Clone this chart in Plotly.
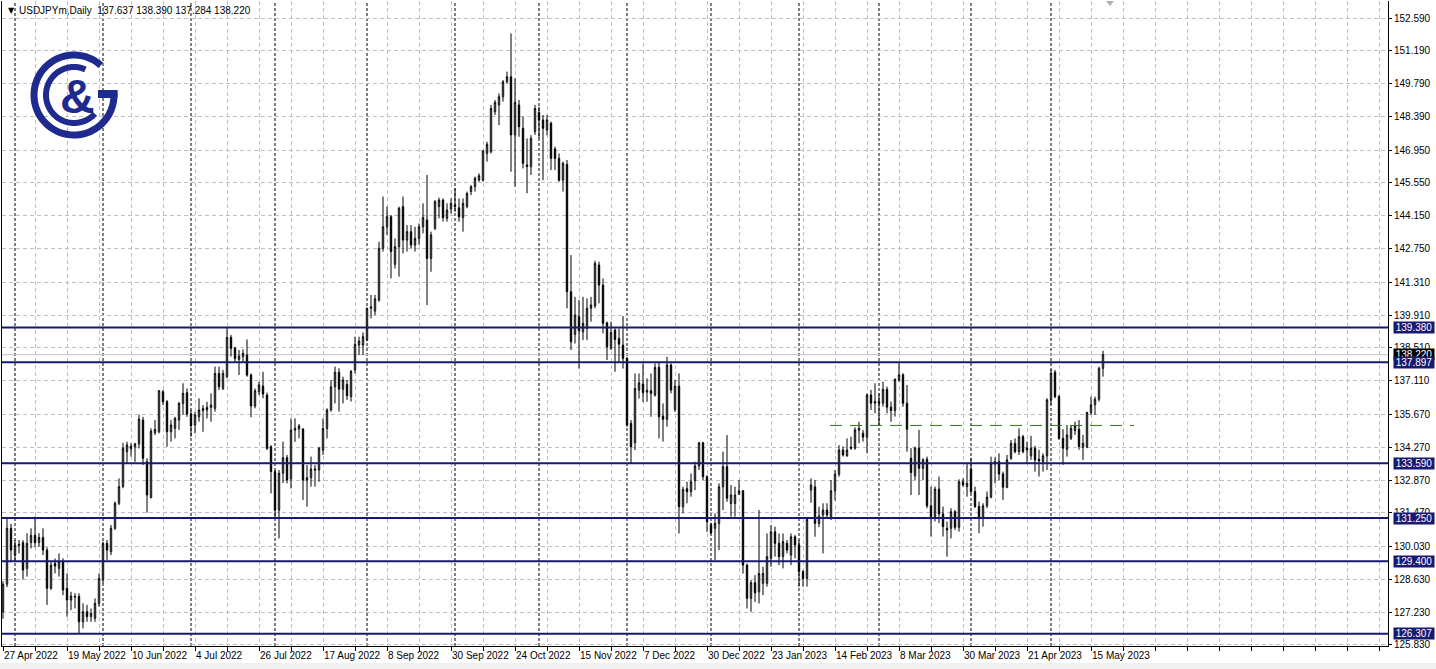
import numpy as np
import pandas as pd
import plotly.graph_objects as go

# ---------------- data ----------------
symbol_header = "USDJPYm,Daily\u00a0\u00a0137.637 138.390 137.284 138.220"

# trading days shown (weekdays, Christmas Monday has no bar)
dates = [d for d in pd.bdate_range("2022-04-27", "2023-05-18") if d != pd.Timestamp("2022-12-26")]

opens = [
    127.25, 128.42, 130.81, 129.67, 130.08, 130.20, 129.10, 130.20, 130.51, 130.20,
    130.42, 129.88, 128.25, 129.31, 129.10, 129.39, 128.25, 127.75, 127.90, 127.90,
    126.82, 127.25, 127.04, 126.97, 127.61, 128.63, 130.17, 129.81, 130.81, 131.88,
    132.59, 134.08, 134.20, 134.29, 134.41, 135.43, 133.65, 132.12, 134.89, 134.93,
    136.64, 136.21, 134.93, 135.08, 135.43, 136.14, 136.60, 135.69, 135.22, 135.57,
    135.83, 135.86, 135.97, 135.93, 137.42, 136.78, 137.28, 138.96, 138.49, 138.02,
    138.13, 138.20, 137.35, 136.03, 136.64, 136.88, 136.50, 134.29, 133.23, 131.59,
    133.16, 133.82, 132.92, 135.00, 135.05, 135.05, 132.87, 132.97, 133.34, 133.30,
    134.15, 135.07, 135.86, 136.85, 137.47, 136.75, 136.95, 136.43, 137.57, 138.63,
    138.63, 138.85, 140.20, 140.08, 140.55, 142.76, 143.68, 144.11, 142.08, 142.83,
    144.54, 143.11, 143.47, 142.90, 143.18, 143.68, 143.97, 142.33, 143.61, 144.54,
    144.82, 144.04, 144.44, 144.61, 144.49, 144.07, 144.54, 145.18, 145.39, 145.67,
    145.67, 146.81, 146.88, 148.59, 148.88, 149.23, 149.87, 150.08, 147.60, 148.88,
    147.88, 146.32, 146.24, 147.74, 148.56, 148.24, 147.81, 148.10, 147.00, 146.60,
    145.67, 146.34, 140.91, 139.09, 139.84, 139.20, 139.34, 140.20, 140.30, 142.05,
    141.19, 139.58, 138.49, 139.27, 138.91, 138.63, 138.06, 135.29, 134.46, 136.71,
    136.97, 136.62, 136.68, 136.50, 137.68, 135.60, 135.46, 137.78, 135.88, 136.88,
    131.73, 132.50, 132.37, 132.84, 133.47, 134.46, 133.01, 130.95, 130.81, 131.02,
    132.58, 133.44, 131.87, 131.87, 132.27, 132.41, 129.24, 127.82, 128.49, 128.10,
    128.46, 128.46, 129.53, 130.66, 130.17, 129.60, 130.17, 129.67, 130.45, 130.10,
    128.96, 128.67, 132.44, 132.58, 131.02, 131.38, 131.59, 131.23, 132.41, 133.12,
    134.15, 133.90, 134.27, 134.23, 135.00, 134.87, 134.70, 136.50, 136.15, 136.22,
    136.15, 136.74, 135.98, 135.84, 137.14, 137.36, 136.15, 133.80, 133.05, 134.23,
    133.37, 133.76, 131.77, 131.31, 132.48, 131.42, 130.81, 130.81, 131.52, 130.85,
    132.80, 132.59, 133.33, 132.38, 131.74, 131.24, 131.77, 132.14, 133.56, 133.66,
    133.13, 132.56, 133.80, 134.44, 134.08, 134.72, 134.23, 133.90, 134.23, 133.76,
    133.66, 133.90, 136.29, 137.47, 136.43, 134.65, 134.18, 134.65, 134.98, 135.04,
    134.27, 134.27, 135.75, 136.08, 136.32, 137.637,
]
highs = [
    128.55, 131.24, 131.00, 130.31, 130.31, 130.31, 130.60, 130.81, 131.31, 130.60,
    130.81, 130.00, 129.38, 129.52, 129.74, 129.53, 128.89, 128.10, 128.04, 128.04,
    127.61, 127.54, 127.39, 127.82, 128.89, 130.24, 130.31, 130.95, 131.95, 132.94,
    134.46, 134.51, 134.44, 134.46, 135.65, 135.57, 133.80, 135.08, 135.43, 136.71,
    136.71, 136.29, 135.43, 135.57, 136.21, 137.00, 136.78, 135.86, 135.79, 136.36,
    136.07, 136.21, 136.57, 137.71, 137.71, 137.57, 139.38, 139.06, 138.56, 138.42,
    138.45, 138.87, 137.42, 136.78, 137.07, 137.49, 136.60, 134.36, 133.30, 133.30,
    134.51, 133.94, 135.50, 135.50, 135.26, 135.08, 133.51, 133.87, 133.51, 134.29,
    135.50, 135.93, 137.14, 137.71, 137.64, 137.28, 137.14, 137.57, 138.99, 138.99,
    139.17, 140.23, 140.77, 140.77, 143.04, 144.97, 144.54, 144.18, 143.18, 144.54,
    144.97, 143.75, 143.75, 143.68, 143.82, 144.68, 145.89, 143.47, 144.82, 144.92,
    144.89, 144.68, 144.89, 145.32, 144.89, 144.89, 145.18, 145.46, 145.82, 145.96,
    146.96, 147.31, 148.88, 149.09, 149.37, 149.94, 150.30, 151.93, 150.02, 149.09,
    148.38, 147.45, 147.59, 148.88, 148.80, 148.45, 148.45, 148.17, 147.10, 146.81,
    146.46, 146.53, 142.47, 140.69, 140.55, 140.69, 140.62, 140.69, 142.23, 142.19,
    141.47, 139.63, 139.63, 139.34, 139.34, 139.87, 138.13, 135.43, 137.42, 137.42,
    137.85, 137.21, 137.42, 137.85, 137.88, 136.14, 138.13, 137.85, 137.14, 137.42,
    132.59, 132.80, 133.15, 133.65, 134.50, 134.50, 133.08, 131.05, 131.45, 132.73,
    134.08, 134.79, 132.66, 132.59, 132.87, 132.44, 129.31, 128.60, 128.81, 131.59,
    129.17, 130.59, 130.95, 130.88, 130.59, 130.59, 130.31, 130.59, 130.52, 130.31,
    129.03, 131.23, 132.94, 132.87, 131.73, 131.88, 131.88, 132.87, 133.30, 134.36,
    134.30, 134.65, 134.72, 135.12, 135.36, 135.01, 136.57, 136.72, 137.00, 136.57,
    137.07, 136.86, 136.22, 137.21, 137.88, 137.43, 136.93, 134.23, 134.30, 135.01,
    133.80, 133.87, 132.59, 132.59, 133.02, 131.74, 131.10, 131.67, 131.59, 132.90,
    132.94, 133.59, 133.80, 132.59, 131.95, 131.88, 132.38, 133.87, 133.84, 134.01,
    133.23, 133.94, 134.58, 134.65, 135.08, 134.80, 134.51, 134.76, 134.33, 134.16,
    134.01, 136.36, 137.60, 137.57, 136.50, 135.04, 135.22, 135.22, 135.36, 135.43,
    134.80, 135.79, 136.43, 136.43, 137.71, 138.390,
]
lows = [
    126.95, 128.30, 129.39, 129.39, 129.74, 128.63, 128.75, 129.95, 130.00, 130.03,
    129.67, 127.54, 128.18, 128.89, 128.75, 127.96, 127.04, 127.32, 127.39, 126.33,
    126.54, 126.82, 126.82, 126.82, 127.47, 128.46, 129.46, 129.67, 130.74, 131.80,
    132.52, 133.58, 133.87, 133.65, 134.22, 133.51, 131.48, 132.09, 134.79, 134.86,
    136.07, 134.29, 134.51, 134.65, 135.01, 135.65, 135.57, 134.72, 134.86, 135.36,
    134.93, 135.50, 135.36, 135.79, 136.71, 136.71, 137.21, 138.14, 137.92, 137.35,
    137.92, 137.28, 135.55, 135.93, 136.50, 136.36, 134.15, 132.30, 131.23, 130.38,
    132.74, 132.73, 132.51, 134.50, 134.65, 132.02, 131.73, 132.59, 132.59, 132.80,
    133.94, 134.65, 135.79, 136.14, 135.79, 136.14, 136.29, 136.22, 137.42, 138.21,
    138.21, 138.80, 139.77, 139.91, 140.48, 142.62, 143.33, 141.48, 141.90, 141.55,
    142.54, 142.62, 142.76, 142.62, 142.90, 143.40, 140.34, 141.76, 143.54, 144.04,
    143.90, 143.90, 144.25, 144.32, 143.90, 143.47, 144.47, 145.03, 145.18, 145.60,
    145.60, 146.46, 146.81, 148.45, 148.02, 149.02, 149.80, 146.03, 145.39, 147.52,
    146.17, 145.11, 145.89, 147.60, 147.45, 145.67, 147.59, 146.10, 146.10, 145.60,
    145.18, 140.20, 138.42, 138.70, 137.63, 138.84, 138.84, 139.63, 140.20, 140.41,
    139.13, 137.99, 138.42, 137.49, 137.88, 137.63, 135.15, 133.58, 134.15, 136.35,
    136.21, 136.21, 135.57, 136.43, 134.65, 134.51, 135.15, 136.57, 135.78, 130.59,
    131.45, 131.88, 132.16, 132.44, 133.30, 132.87, 130.66, 130.56, 129.45, 129.88,
    131.59, 131.94, 131.31, 131.31, 132.23, 128.88, 127.39, 127.25, 127.67, 127.60,
    127.96, 128.32, 129.17, 129.60, 129.24, 129.10, 129.74, 129.24, 129.53, 128.32,
    128.32, 128.32, 131.90, 130.45, 130.86, 129.74, 131.23, 131.16, 132.00, 133.01,
    133.87, 133.87, 134.16, 134.16, 134.44, 134.51, 134.01, 135.86, 135.72, 135.22,
    136.00, 135.72, 135.36, 135.58, 137.07, 136.00, 134.08, 132.23, 132.87, 132.23,
    132.87, 131.67, 130.46, 131.10, 131.03, 130.46, 129.60, 130.38, 130.74, 130.67,
    132.59, 132.16, 132.30, 131.67, 130.60, 130.88, 131.67, 132.09, 132.73, 132.87,
    132.02, 132.52, 133.73, 134.01, 133.94, 134.01, 133.59, 133.73, 133.23, 133.02,
    133.23, 133.30, 136.08, 136.36, 134.58, 133.52, 133.87, 134.58, 134.80, 134.16,
    133.73, 134.23, 135.65, 135.65, 136.22, 137.284,
]
closes = [
    128.42, 130.81, 129.88, 130.08, 130.12, 129.03, 130.17, 130.51, 130.20, 130.42,
    129.88, 128.25, 129.24, 129.20, 129.39, 128.18, 127.75, 127.92, 127.88, 126.82,
    127.25, 127.04, 127.18, 127.61, 128.67, 130.17, 129.88, 130.81, 131.88, 132.59,
    134.22, 134.37, 134.32, 134.41, 135.47, 133.80, 132.23, 134.96, 135.03, 136.68,
    136.21, 134.93, 135.22, 135.50, 136.14, 136.57, 135.69, 135.18, 135.65, 135.86,
    135.93, 135.97, 136.07, 137.42, 136.85, 137.42, 138.96, 138.49, 138.06, 138.16,
    138.28, 137.35, 136.03, 136.68, 136.93, 136.54, 134.22, 133.23, 131.59, 133.16,
    133.82, 132.87, 135.00, 135.08, 135.18, 132.87, 132.97, 133.34, 133.30, 134.22,
    135.07, 135.86, 136.85, 137.47, 136.75, 137.14, 136.47, 137.50, 138.66, 138.80,
    138.99, 140.20, 140.26, 140.60, 142.76, 143.68, 144.11, 142.62, 142.83, 144.47,
    143.11, 143.47, 142.90, 143.18, 143.68, 144.07, 142.33, 143.33, 144.75, 144.82,
    144.07, 144.39, 144.68, 144.54, 144.11, 144.68, 145.10, 145.39, 145.75, 145.86,
    146.91, 147.20, 148.73, 148.99, 149.23, 149.87, 150.08, 147.60, 148.99, 147.95,
    146.39, 146.25, 147.45, 148.73, 148.24, 147.88, 148.24, 146.60, 146.60, 145.67,
    146.39, 140.91, 138.77, 139.91, 139.24, 139.56, 140.20, 140.34, 142.12, 141.19,
    139.56, 138.56, 139.16, 138.87, 138.67, 138.06, 135.22, 134.29, 136.78, 137.02,
    136.60, 136.70, 136.57, 137.68, 135.57, 135.46, 137.78, 136.71, 136.88, 131.73,
    132.47, 132.37, 132.80, 133.47, 134.46, 133.01, 131.09, 130.62, 131.02, 132.58,
    133.44, 132.09, 132.23, 132.23, 132.41, 129.24, 127.82, 128.49, 128.06, 128.88,
    128.88, 129.60, 130.66, 130.17, 129.60, 130.24, 129.88, 130.45, 130.10, 128.96,
    128.67, 131.19, 132.66, 131.02, 131.33, 131.59, 131.38, 132.41, 133.12, 134.15,
    133.94, 134.15, 134.23, 135.01, 135.08, 134.70, 136.50, 136.15, 136.22, 136.15,
    136.74, 135.98, 135.84, 137.17, 137.36, 136.15, 135.04, 133.19, 134.23, 133.37,
    133.73, 131.77, 131.31, 132.48, 131.42, 130.88, 130.74, 131.52, 130.85, 132.80,
    132.66, 132.73, 132.38, 131.74, 131.24, 131.77, 132.14, 133.59, 133.66, 133.13,
    132.56, 133.73, 134.44, 134.08, 134.72, 134.08, 134.16, 134.23, 133.73, 133.69,
    133.90, 136.29, 137.43, 136.43, 134.65, 134.23, 134.79, 135.08, 135.18, 134.30,
    134.44, 135.75, 136.08, 136.32, 137.64, 138.220,
]

date_tick_labels = [
    "27 Apr 2022", "19 May 2022", "10 Jun 2022", "4 Jul 2022", "26 Jul 2022",
    "17 Aug 2022", "8 Sep 2022", "30 Sep 2022", "24 Oct 2022", "15 Nov 2022",
    "7 Dec 2022", "30 Dec 2022", "23 Jan 2023", "14 Feb 2023", "8 Mar 2023",
    "30 Mar 2023", "21 Apr 2023", "15 May 2023",
]
price_ticks = [152.590, 151.190, 149.790, 148.390, 146.950, 145.550, 144.150, 142.750,
               141.310, 139.910, 138.510, 137.110, 135.670, 134.270, 132.870, 131.470,
               130.030, 128.630, 127.230, 125.830]

level_values = [139.380, 137.897, 133.590, 131.250, 129.400, 126.307]
level_labels = ["139.380", "137.897", "133.590", "131.250", "129.400", "126.307"]
bid_price = 138.220
dashed_level = 135.20
dashed_from_date = "2023-02-13"   # start of the dashed line
dashed_extent_bars = 76

# ---------------- figure ----------------
NAVY = "#191970"
LOGO = "#1e2a8e"
FONT = "Liberation Sans Narrow, Arial Narrow, Liberation Sans, Arial, sans-serif"
FS = 10

xs = list(range(len(dates)))
date_to_idx = {d.strftime("%-d %b %Y"): i for i, d in enumerate(dates)}
iso_to_idx = {d.strftime("%Y-%m-%d"): i for i, d in enumerate(dates)}

fig = go.Figure()
fig.add_trace(go.Candlestick(
    x=xs, open=opens, high=highs, low=lows, close=closes,
    increasing=dict(line=dict(color="black", width=1), fillcolor="white"),
    decreasing=dict(line=dict(color="black", width=1), fillcolor="black"),
    whiskerwidth=0, hoverinfo="skip", showlegend=False,
))

X_MAX = 346.25
Y_MIN, Y_MAX = 125.787, 153.316

# x ticks every 8 bars, labels every 16
tickvals, ticktext = [], []
label_pos = {date_to_idx[t]: t for t in date_tick_labels}
for v in range(0, int(X_MAX) + 1, 8):
    tickvals.append(v)
    ticktext.append(label_pos.get(v, ""))

shapes = []
# month period separators
for i in range(1, len(dates)):
    if dates[i].month != dates[i - 1].month:
        shapes.append(dict(type="line", xref="x", yref="paper", x0=i, x1=i, y0=0, y1=1,
                           line=dict(color="black", width=1, dash="3px,2px"), layer="below"))
# bid line
shapes.append(dict(type="line", xref="paper", yref="y", x0=0, x1=1, y0=bid_price, y1=bid_price,
                   line=dict(color="#c0c0c0", width=1), layer="below"))
# horizontal levels
for lv in level_values:
    shapes.append(dict(type="line", xref="paper", yref="y", x0=0, x1=1, y0=lv, y1=lv,
                       line=dict(color=NAVY, width=2), layer="above"))
# dashed green level
d0 = iso_to_idx[dashed_from_date] - 0.25
shapes.append(dict(type="line", xref="x", yref="y", x0=d0, x1=d0 + dashed_extent_bars,
                   y0=dashed_level, y1=dashed_level,
                   line=dict(color="#3d6b1c", width=1, dash="12px,8px"), layer="above"))

# bottom grey strip
shapes.append(dict(type="rect", xref="paper", yref="paper", x0=-0.01, x1=1.04,
                   y0=-0.0265, y1=-0.04, fillcolor="#f0f0f0", line=dict(width=0), layer="below"))

# shift marker triangle on top
shapes.append(dict(type="path", xref="paper", yref="paper", xsizemode="pixel", ysizemode="pixel",
                   xanchor=(1110 - 2) / 1386, yanchor=1.0,
                   path="M -4,0 L 4,0 L 0,-5 Z", fillcolor="#b0b0b0", line=dict(width=0)))

# logo (rings in pixel space)
def ring_path(r_in, r_out, a0, a1, n=80):
    a = np.radians(np.linspace(a0, a1, n))
    outer = [(r_out * np.cos(t), r_out * np.sin(t)) for t in a]
    inner = [(r_in * np.cos(t), r_in * np.sin(t)) for t in a[::-1]]
    pts = outer + inner
    return "M " + " L ".join(f"{x:.2f},{y:.2f}" for x, y in pts) + " Z"

lx, ly = (74 - 2) / 1386, 1 - (95 - 1) / 645
logo_paths = [
    ring_path(36.5, 43.5, 48, 366),
    ring_path(25, 31, 66, 318),
    "M 24,-3 L 43.5,-3 L 43.5,5 L 24,5 Z",
]
for p in logo_paths:
    shapes.append(dict(type="path", xref="paper", yref="paper", xsizemode="pixel", ysizemode="pixel",
                       xanchor=lx, yanchor=ly, path=p, fillcolor=LOGO, line=dict(width=0),
                       layer="above"))

annotations = []
# current price label (drawn first so level labels overlap it)
annotations.append(dict(x=1, xref="paper", xanchor="left", xshift=5, y=bid_price, yref="y",
                        text=f"{bid_price:.3f}", showarrow=False, bgcolor="black",
                        font=dict(color="white", size=FS, family=FONT),
                        borderpad=0, width=40, height=11, align="center"))
for lv, txt in zip(level_values, level_labels):
    annotations.append(dict(x=1, xref="paper", xanchor="left", xshift=5, y=lv, yref="y",
                            text=txt, showarrow=False, bgcolor=NAVY,
                            font=dict(color="white", size=FS, family=FONT),
                            borderpad=0, width=40, height=11, align="center"))
# header
annotations.append(dict(x=0, xref="paper", xanchor="left", xshift=4, y=1, yref="paper",
                        yanchor="middle", yshift=-9, text="\u25bc", showarrow=False,
                        font=dict(color="black", size=8, family="DejaVu Sans")))
annotations.append(dict(x=0, xref="paper", xanchor="left", xshift=15, y=1, yref="paper",
                        yanchor="middle", yshift=-9, text=symbol_header, showarrow=False,
                        font=dict(color="black", size=FS, family=FONT)))
# logo ampersand
annotations.append(dict(x=(77 - 2) / 1386, xref="paper", y=1 - (96 - 1) / 645, yref="paper",
                        xanchor="center", yanchor="middle", text="<b>&</b>", showarrow=False,
                        font=dict(color=LOGO, size=48, family="Liberation Sans, Arial, sans-serif")))

fig.update_layout(
    width=1436, height=669,
    margin=dict(l=2, r=48, t=1, b=23),
    paper_bgcolor="white", plot_bgcolor="white",
    showlegend=False, boxgap=0.5,
    shapes=shapes, annotations=annotations,
    xaxis=dict(
        range=[-0.25, X_MAX], rangeslider=dict(visible=False),
        tickmode="array", tickvals=tickvals, ticktext=ticktext, tickangle=0,
        showgrid=True, gridcolor="#c0c0c0", gridwidth=1, griddash="4px,3px",
        showline=True, linecolor="black", linewidth=1,
        ticks="outside", ticklen=4, tickcolor="black",
        ticklabelposition="outside right",
        tickfont=dict(color="black", size=FS, family=FONT),
        zeroline=False, fixedrange=True, automargin=False,
    ),
    yaxis=dict(
        range=[Y_MIN, Y_MAX], side="right",
        tickmode="array", tickvals=price_ticks, ticktext=[f"{v:.3f}" for v in price_ticks],
        showgrid=True, gridcolor="#c0c0c0", gridwidth=1, griddash="4px,3px",
        showline=True, mirror=True, linecolor="black", linewidth=1,
        ticks="outside", ticklen=3, tickcolor="black",
        tickfont=dict(color="black", size=FS, family=FONT),
        zeroline=False, fixedrange=True, automargin=False,
    ),
)

fig.write_html("out.html", config={"displayModeBar": False},
               post_script="document.body.style.margin='0px';document.body.style.overflow='hidden';")
